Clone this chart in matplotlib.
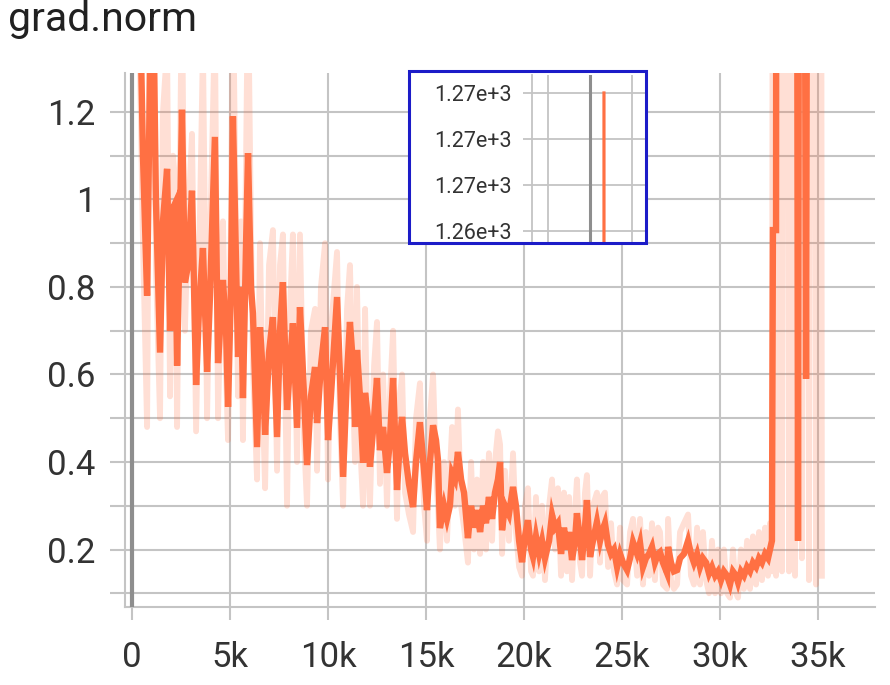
import matplotlib
matplotlib.use('Agg')
import matplotlib.pyplot as plt
from matplotlib.patches import Rectangle

plt.rcParams['font.family'] = ['Roboto', 'DejaVu Sans']

title = 'grad.norm'

# ---- main run (orange): smoothed line and raw line ----
steps = [150, 410, 560, 770, 920, 1070, 1220, 1430, 1580, 1790, 1940, 2090, 2190, 2300, 2450, 2550, 2700, 2860,
         3060, 3270, 3420, 3620, 3830, 3980, 4230, 4390, 4540, 4640, 4800, 4900, 5050, 5150, 5310, 5410, 5560,
         5660, 5820, 5920, 6070, 6170, 6380, 6530, 6680, 6790, 6990, 7190, 7400, 7550, 7700, 7910, 8060, 8210,
         8420, 8570, 8780, 8930, 9130, 9340, 9440, 9640, 9850, 10000, 10150, 10460, 10610, 10770, 10970, 11120,
         11280, 11380, 11480, 11630, 11790, 11890, 12040, 12140, 12350, 12500, 12650, 12810, 13010, 13160, 13320,
         13520, 13670, 13780, 13930, 14130, 14340, 14490, 14690, 14900, 15050, 15200, 15360, 15510, 15610, 15710,
         15920, 16070, 16220, 16330, 16480, 16630, 16790, 16940, 17140, 17300, 17450, 17600, 17760, 17910, 18060,
         18210, 18370, 18520, 18670, 18780, 18880, 19030, 19230, 19440, 19590, 19750, 19900, 20050, 20200, 20360,
         20460, 20610, 20770, 20920, 21070, 21280, 21430, 21580, 21730, 21890, 22040, 22190, 22300, 22450, 22600,
         22700, 22860, 22960, 23110, 23210, 23370, 23520, 23720, 23880, 23980, 24130, 24290, 24440, 24590, 24750,
         24900, 25050, 25260, 25410, 25560, 25770, 25920, 26070, 26220, 26380, 26530, 26680, 26840, 26940, 27090,
         27300, 27350, 27500, 27650, 27810, 27960, 28160, 28370, 28520, 28670, 28830, 28980, 29130, 29290, 29440,
         29590, 29750, 29900, 30050, 30200, 30360, 30510, 30660, 30820, 30920, 31070, 31220, 31380, 31530, 31680,
         31840, 31990, 32140, 32300, 32450, 32550, 32650]

smooth_values = [1.6, 1.45, 1.1, 0.78, 1.3, 1.5, 1.0, 0.65, 0.95, 1.07, 0.70, 0.98, 0.99, 0.62, 0.95, 1.205, 0.81, 0.85,
                 1.02, 0.576, 0.75, 0.889, 0.606, 0.78, 1.143, 0.626, 0.74, 0.816, 0.70, 0.526, 0.80, 1.19, 0.85, 0.64, 0.80,
                 0.546, 0.90, 1.106, 0.80, 0.74, 0.434, 0.708, 0.60, 0.462, 0.65, 0.731, 0.457, 0.70, 0.811, 0.519, 0.62, 0.717,
                 0.478, 0.754, 0.55, 0.393, 0.55, 0.617, 0.489, 0.62, 0.708, 0.45, 0.55, 0.777, 0.60, 0.366, 0.60, 0.72,
                 0.62, 0.48, 0.656, 0.55, 0.398, 0.558, 0.50, 0.389, 0.50, 0.592, 0.427, 0.48, 0.375, 0.45, 0.592,
                 0.336, 0.45, 0.503, 0.42, 0.35, 0.297, 0.40, 0.491, 0.38, 0.29, 0.40, 0.484, 0.45, 0.405, 0.249,
                 0.30, 0.27, 0.30, 0.375, 0.36, 0.423, 0.36, 0.33, 0.226, 0.30, 0.25, 0.29, 0.24, 0.30, 0.26,
                 0.32, 0.27, 0.33, 0.36, 0.40, 0.244, 0.30, 0.28, 0.343, 0.30, 0.22, 0.171, 0.23, 0.267, 0.20,
                 0.183, 0.23, 0.19, 0.22, 0.18, 0.22, 0.279, 0.25, 0.26, 0.19, 0.25, 0.20, 0.24, 0.176, 0.22,
                 0.283, 0.22, 0.176, 0.25, 0.313, 0.183, 0.22, 0.263, 0.22, 0.24, 0.26, 0.21, 0.19, 0.20, 0.16,
                 0.19, 0.17, 0.153, 0.18, 0.217, 0.19, 0.215, 0.16, 0.18, 0.19, 0.206, 0.17, 0.19, 0.194, 0.17,
                 0.146, 0.206, 0.17, 0.15, 0.153, 0.18, 0.19, 0.22, 0.19, 0.17, 0.19, 0.16, 0.18, 0.17, 0.145,
                 0.16, 0.14, 0.15, 0.13, 0.15, 0.14, 0.12, 0.15, 0.14, 0.125, 0.15, 0.14, 0.16, 0.15, 0.17,
                 0.16, 0.18, 0.17, 0.19, 0.18, 0.20, 0.22]

raw_values = [1.9, 1.3, 0.9, 0.48, 1.6, 1.8, 0.85, 0.50, 1.2, 1.35, 0.55, 1.1, 1.05, 0.48, 1.1, 1.5, 0.70, 0.95,
              1.15, 0.47, 0.85, 1.35, 0.50, 0.90, 1.4, 0.50, 0.80, 0.95, 0.60, 0.45, 0.95, 1.5, 0.90, 0.55, 0.95,
              0.45, 1.1, 1.5, 0.93, 0.62, 0.36, 0.90, 0.52, 0.34, 0.85, 0.93, 0.38, 0.85, 0.92, 0.30, 0.75, 0.92,
              0.40, 0.92, 0.45, 0.30, 0.70, 0.75, 0.38, 0.80, 0.90, 0.36, 0.70, 0.88, 0.50, 0.30, 0.75, 0.85,
              0.55, 0.40, 0.80, 0.45, 0.30, 0.75, 0.40, 0.30, 0.62, 0.72, 0.35, 0.60, 0.30, 0.55, 0.70,
              0.27, 0.55, 0.60, 0.33, 0.28, 0.24, 0.50, 0.58, 0.30, 0.22, 0.50, 0.60, 0.38, 0.30, 0.20,
              0.40, 0.22, 0.38, 0.48, 0.30, 0.52, 0.30, 0.25, 0.17, 0.40, 0.20, 0.36, 0.19, 0.40, 0.20,
              0.42, 0.22, 0.40, 0.47, 0.44, 0.19, 0.38, 0.22, 0.42, 0.24, 0.16, 0.14, 0.30, 0.34, 0.15,
              0.14, 0.32, 0.15, 0.30, 0.13, 0.30, 0.36, 0.20, 0.34, 0.14, 0.33, 0.15, 0.32, 0.13, 0.28,
              0.36, 0.17, 0.14, 0.33, 0.37, 0.14, 0.30, 0.33, 0.17, 0.32, 0.33, 0.16, 0.26, 0.15, 0.12,
              0.25, 0.13, 0.12, 0.24, 0.27, 0.14, 0.27, 0.12, 0.24, 0.14, 0.26, 0.13, 0.25, 0.24, 0.12,
              0.11, 0.27, 0.13, 0.11, 0.12, 0.24, 0.26, 0.28, 0.14, 0.12, 0.25, 0.12, 0.24, 0.13, 0.10,
              0.22, 0.10, 0.20, 0.10, 0.20, 0.10, 0.09, 0.20, 0.10, 0.09, 0.20, 0.11, 0.22, 0.11, 0.23,
              0.12, 0.24, 0.13, 0.25, 0.14, 0.26, 0.15]

head_steps = [100]
head_values = [1267.0]

smooth_tail_steps = [32700, 32860, 32910, 33210, 33830, 33980, 34130, 34390, 34590, 35100]
smooth_tail_values = [0.93, 0.93, 5.0, 5.0, 5.0, 0.22, 5.0, 0.59, 5.0, 5.0]

raw_tail_steps = [32760, 32860, 33010, 33160, 33370, 33520, 33670, 33830, 34030, 34180, 34390, 34540,
                  34750, 34900, 35100, 35200]
raw_tail_values = [5.0, 0.14, 5.0, 0.15, 5.0, 0.15, 5.0, 0.14, 5.0, 0.18, 5.0, 0.13, 5.0, 0.12, 5.0, 0.14]

# ---- second run (gray): one spike at step 0 ----
gray_steps = [0, 0]
gray_values = [0.0, 1300.0]

xtick_values = [0, 5000, 10000, 15000, 20000, 25000, 30000, 35000]
xtick_labels = ['0', '5k', '10k', '15k', '20k', '25k', '30k', '35k']
ytick_values = [0.2, 0.4, 0.6, 0.8, 1.0, 1.2]
ytick_labels = ['0.2', '0.4', '0.6', '0.8', '1', '1.2']
yminor_values = [0.1, 0.3, 0.5, 0.7, 0.9, 1.1]

inset_ytick_values = [1267, 1266, 1265, 1264]
inset_ytick_labels = ['1.27e+3', '1.27e+3', '1.27e+3', '1.26e+3']
inset_xtick_values = [-300, 0, 300]

# ---- styling ----
W, H = 890, 685
ORANGE = '#ff7043'
GRID = '#c4c4c4'
TXT = '#333333'

smooth_x = head_steps + steps + smooth_tail_steps
smooth_y = head_values + smooth_values + smooth_tail_values
raw_x = head_steps + steps + raw_tail_steps
raw_y = head_values + raw_values + raw_tail_values

fig = plt.figure(figsize=(W / 100, H / 100), dpi=100)
fig.patch.set_facecolor('white')


def draw_series(a):
    a.plot(raw_x, raw_y, color=ORANGE, alpha=0.22, lw=4.2, zorder=2)
    a.plot(smooth_x, smooth_y, color=ORANGE, lw=4.6, zorder=3, solid_joinstyle='miter')
    a.plot(gray_steps, gray_values, color='#8e8e8e', lw=3.0, zorder=4)


ax = fig.add_axes([125 / W, 1 - 607 / H, (875 - 125) / W, (607 - 73) / H])
draw_series(ax)
ax.set_xlim(-357, 37908)
ax.set_ylim(0.0686, 1.289)
ax.set_xticks(xtick_values)
ax.set_xticklabels(xtick_labels)
ax.set_yticks(ytick_values)
ax.set_yticklabels(ytick_labels)
ax.set_yticks(yminor_values, minor=True)
ax.grid(True, which='both', color=GRID, lw=1.5)
ax.set_axisbelow(True)
ax.tick_params(axis='both', which='both', color=GRID, width=1.5, labelsize=25, labelcolor=TXT)
ax.tick_params(axis='y', which='both', length=10.8, pad=10.5)
ax.tick_params(axis='x', which='both', length=9.4, pad=15)
for s in ['top', 'right']:
    ax.spines[s].set_visible(False)
for s in ['left', 'bottom']:
    ax.spines[s].set_color(GRID)
    ax.spines[s].set_linewidth(1.5)

fig.text(8 / W, 1 - 31 / H, title, fontsize=29.5, color='#212121', ha='left', va='baseline')

# ---- inset (zoomed view) ----
box_x0, box_y0, box_x1, box_y1 = 409, 71, 646, 243
fig.add_artist(Rectangle((box_x0 / W, 1 - box_y1 / H), (box_x1 - box_x0) / W, (box_y1 - box_y0) / H,
                         transform=fig.transFigure, facecolor='white', edgecolor='none', zorder=2))
axi = fig.add_axes([532 / W, 1 - 242 / H, (645 - 532) / W, (242 - 75) / H], zorder=3)
draw_series(axi)
axi.set_xlim(-414, 393)
axi.set_ylim(1263.76, 1267.39)
axi.set_xticks(inset_xtick_values)
axi.set_xticklabels([])
axi.set_yticks(inset_ytick_values)
axi.set_yticklabels(inset_ytick_labels)
axi.grid(True, color=GRID, lw=1.3)
axi.set_axisbelow(True)
axi.tick_params(axis='x', length=0)
axi.tick_params(axis='y', length=6.5, pad=8, color=GRID, width=1.3, labelsize=15.5, labelcolor=TXT)
for s in ['top', 'right', 'bottom']:
    axi.spines[s].set_visible(False)
axi.spines['left'].set_color(GRID)
axi.spines['left'].set_linewidth(1.3)
for ln in axi.lines:
    ln.set_linewidth(2.2)
fig.add_artist(Rectangle((box_x0 / W, 1 - box_y1 / H), (box_x1 - box_x0) / W, (box_y1 - box_y0) / H,
                         transform=fig.transFigure, facecolor='none', edgecolor='#1c1cc8', lw=2.2, zorder=5))

fig.savefig('out.png', dpi=100, facecolor='white')
